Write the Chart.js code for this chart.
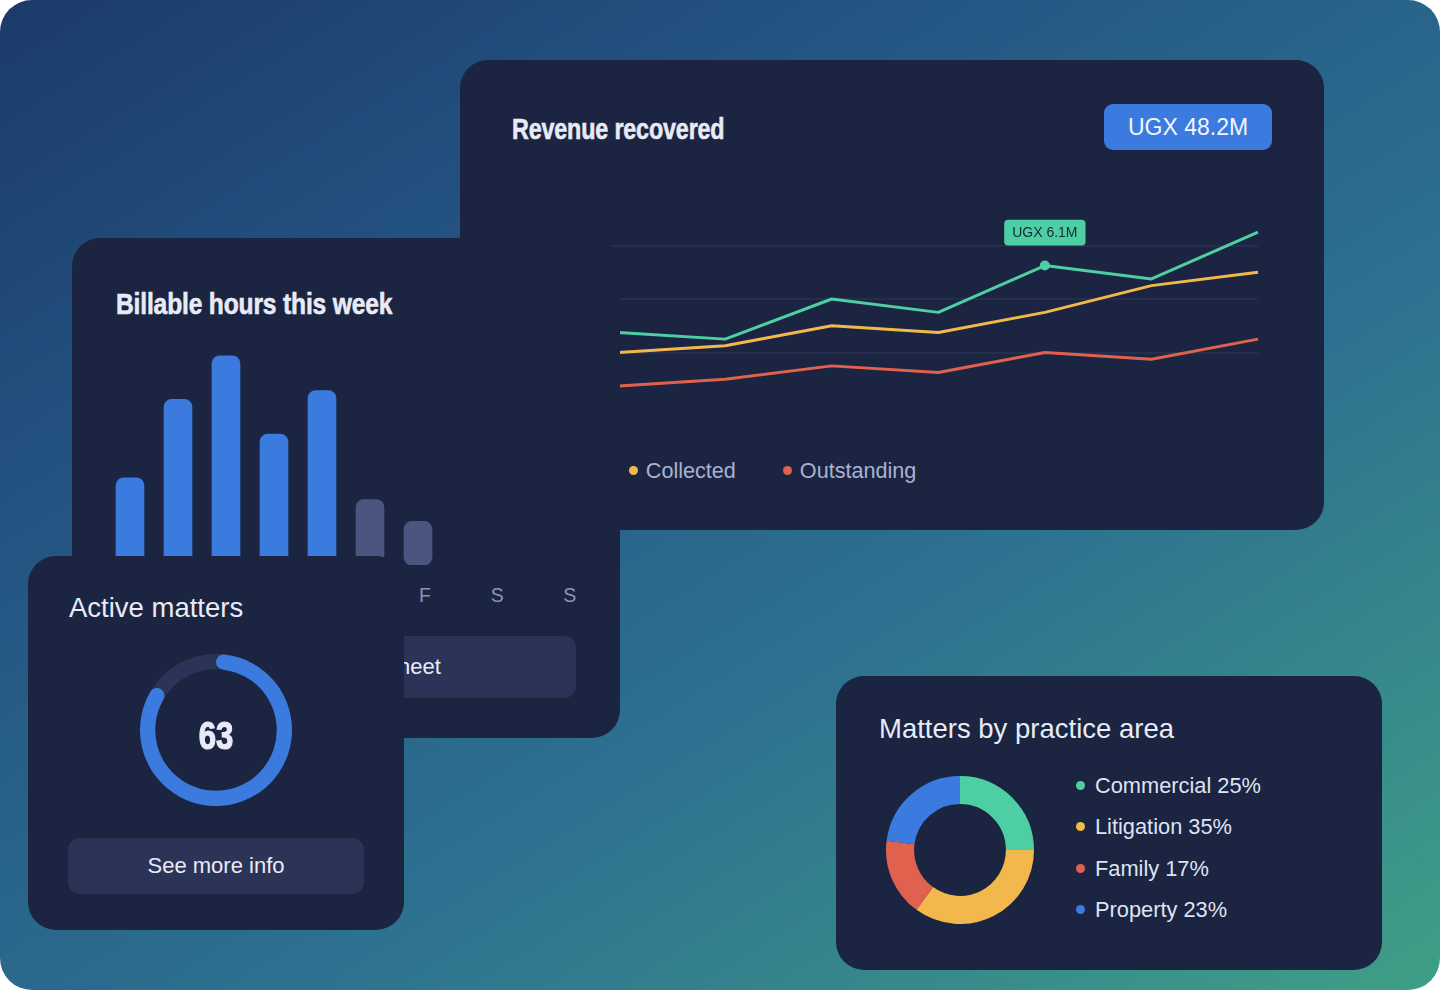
<!DOCTYPE html>
<html>
<head>
<meta charset="utf-8">
<title>Practice dashboard</title>
<script src="https://cdn.jsdelivr.net/npm/chart.js@4.4.1/dist/chart.umd.min.js"></script>
<style>
    html, body { margin: 0; padding: 0; background: #fff; }
    body { width: 1440px; height: 990px; overflow: hidden; font-family: "Liberation Sans", Arial, Helvetica, sans-serif; }
    .stage {
        position: relative; width: 1440px; height: 990px; border-radius: 32px; overflow: hidden;
        background: linear-gradient(148deg, #1b3a6a 0%, #245583 30%, #2d7190 62%, #3f9f86 100%);
    }
    .card { position: absolute; background: #1b2440; border-radius: 28px; }
    .heavy {
        position: absolute; white-space: nowrap; line-height: 1; font-weight: 700;
        font-size: 30px; color: #e8ebf7; transform-origin: left top;
        -webkit-text-stroke: 0.6px #e8ebf7; letter-spacing: -0.2px;
    }
    .plain { position: absolute; white-space: nowrap; line-height: 1; color: #e8ebf7; }
    .btn {
        position: absolute; background: #2b3457; border-radius: 12px; color: #e8ebf7;
        display: flex; align-items: center; justify-content: center; font-size: 22px; white-space: nowrap;
    }
    .chart-box { position: absolute; }
    .legend-row { position: absolute; display: flex; align-items: center; gap: 47px; font-size: 21.6px; color: #a9b2d4; line-height: 1; }
    .legend-row .item { display: flex; align-items: center; }
    .dot { width: 9px; height: 9px; border-radius: 50%; margin-right: 8px; flex: none; }
    .days { position: absolute; display: grid; grid-template-columns: repeat(7, 1fr); font-size: 19.5px; color: #8a94bb; line-height: 1; text-align: center; }
    .practice-item { position: absolute; display: flex; align-items: center; font-size: 21.8px; color: #dfe3f4; line-height: 1; white-space: nowrap; }
</style>
</head>
<body>
<div class="stage">

    <div class="card" id="revenueCard" style="left:460px;top:60px;width:864px;height:470px;z-index:1;">
        <div class="heavy" style="left:52px;top:54px;transform:scaleX(0.777);">Revenue recovered</div>
        <div class="btn" id="revenueBadge" style="left:644px;top:44px;width:168px;height:46px;border-radius:9px;background:#3b7be0;font-size:23px;color:#f3f6ff;"></div>
        <div class="chart-box" style="left:40px;top:120px;width:770px;height:240px;"><canvas id="revenueChart"></canvas></div>
        <div class="legend-row" id="revenueLegend" style="left:52px;top:400px;"></div>
    </div>

    <div class="card" id="billableCard" style="left:72px;top:238px;width:548px;height:500px;z-index:2;">
        <div class="heavy" style="left:44px;top:51px;transform:scaleX(0.82);">Billable hours this week</div>
        <div class="chart-box" style="left:24px;top:99px;width:356px;height:238px;"><canvas id="hoursChart"></canvas></div>
        <div class="days" id="dayLabels" style="left:27px;top:348px;width:507px;"></div>
        <div class="btn" style="left:44px;top:398px;width:460px;height:62px;">Open full timesheet</div>
    </div>

    <div class="card" id="activeCard" style="left:28px;top:556px;width:376px;height:374px;z-index:3;">
        <div class="plain" style="left:41px;top:38px;font-size:27.5px;">Active matters</div>
        <div class="chart-box" style="left:112px;top:98px;width:152px;height:152px;"><canvas id="activeChart"></canvas></div>
        <div class="heavy" id="activeCount" style="left:188px;top:161px;font-size:38px;-webkit-text-stroke:1.2px #e8ebf7;transform:translateX(-50%) scaleX(0.82);transform-origin:center top;"></div>
        <div class="btn" style="left:40px;top:282px;width:296px;height:56px;">See more info</div>
    </div>

    <div class="card" id="practiceCard" style="left:836px;top:676px;width:546px;height:294px;z-index:1;">
        <div class="plain" style="left:43px;top:39px;font-size:27.5px;">Matters by practice area</div>
        <div class="chart-box" style="left:50px;top:100px;width:148px;height:148px;"><canvas id="practiceChart"></canvas></div>
        <div id="practiceLegend"></div>
    </div>

</div>

<script>
// revenue recovered (monthly, first two points sit behind the hours card)
const months = ['Jan', 'Feb', 'Mar', 'Apr', 'May', 'Jun', 'Jul', 'Aug'];
const billed = [9, 11, 10, 16, 14, 21, 19, 26];
const collected = [6, 8, 9, 12, 11, 14, 18, 20];
const outstanding = [2, 3, 4, 6, 5, 8, 7, 10];
const revenueSeries = ['Billed', 'Collected', 'Outstanding'];
const revenueTicks = [0, 8, 16, 24, 32];
const highlightIndex = 5;
const highlightLabel = 'UGX 6.1M';
const revenueTotal = 'UGX 48.2M';

// billable hours this week
const days = ['M', 'T', 'W', 'T', 'F', 'S', 'S'];
const hours = [4, 7.6, 9.6, 6, 8, 3, 2];

// active matters gauge
const activeMatters = 63;
const matterCapacity = 74;

// matters by practice area (%)
const practiceAreas = ['Commercial', 'Litigation', 'Family', 'Property'];
const practiceShares = [25, 35, 17, 23];

const GREEN = '#4ecfa3', YELLOW = '#f2b84b', RED = '#e0624e', BLUE = '#3b7be0';
const WEEKEND = '#4a5580', TRACK = '#2b3457', GRID = '#252e4b';

Chart.defaults.animation = false;
Chart.defaults.font.family = '"Liberation Sans", Arial, sans-serif';

document.addEventListener('DOMContentLoaded', () => {
    renderRevenue();
    renderHours();
    renderActive();
    renderPractice();
});

function renderRevenue() {
    const colors = [GREEN, YELLOW, RED];
    document.getElementById('revenueBadge').textContent = revenueTotal;
    document.getElementById('revenueLegend').innerHTML = revenueSeries.map((s, i) => `
        <div class="item"><span class="dot" style="background:${colors[i]}"></span>${s}</div>`).join('');

    const chart = new Chart(document.getElementById('revenueChart'), {
        type: 'line',
        data: {
            labels: months,
            datasets: [billed, collected, outstanding].map((d, i) => ({
                label: revenueSeries[i],
                data: d,
                borderColor: colors[i],
                backgroundColor: colors[i],
                borderWidth: 3,
                tension: 0,
                borderJoinStyle: 'round',
                pointRadius: ctx => (i === 0 && ctx.dataIndex === highlightIndex) ? 5 : 0,
                pointBorderWidth: 0,
            }))
        },
        options: {
            responsive: true,
            maintainAspectRatio: false,
            events: [],
            layout: { padding: { left: 12, right: 12, top: 12, bottom: 14 } },
            plugins: {
                legend: { display: false },
                tooltip: {
                    backgroundColor: GREEN,
                    bodyColor: '#16283a',
                    bodyFont: { size: 14 },
                    displayColors: false,
                    padding: { x: 8, y: 4.5 },
                    cornerRadius: 4,
                    caretSize: 0,
                    caretPadding: 20,
                    xAlign: 'center',
                    yAlign: 'bottom',
                    callbacks: { title: () => '', label: () => highlightLabel }
                }
            },
            scales: {
                x: { display: false },
                y: {
                    min: revenueTicks[0],
                    max: revenueTicks[revenueTicks.length - 1],
                    afterBuildTicks: axis => { axis.ticks = revenueTicks.map(v => ({ value: v })); },
                    ticks: { display: false },
                    border: { display: false },
                    grid: {
                        drawTicks: false,
                        lineWidth: 2,
                        color: ctx => (ctx.tick && (ctx.tick.value === revenueTicks[0] || ctx.tick.value === revenueTicks[revenueTicks.length - 1])) ? 'rgba(0,0,0,0)' : GRID
                    }
                }
            }
        }
    });
    chart.tooltip.setActiveElements([{ datasetIndex: 0, index: highlightIndex }], { x: 0, y: 0 });
    chart.update();
}

function renderHours() {
    document.getElementById('dayLabels').innerHTML = days.map(d => `<span>${d}</span>`).join('');
    new Chart(document.getElementById('hoursChart'), {
        type: 'bar',
        data: {
            labels: days,
            datasets: [{
                data: hours,
                backgroundColor: hours.map((h, i) => i >= 5 ? WEEKEND : BLUE),
                barThickness: 28,
                borderRadius: 8,
                borderSkipped: false,
            }]
        },
        options: {
            responsive: true,
            maintainAspectRatio: false,
            events: [],
            layout: { padding: { left: 10, right: 10, top: 10, bottom: 10 } },
            plugins: { legend: { display: false }, tooltip: { enabled: false } },
            scales: {
                x: { display: false },
                y: { display: false, min: 0, max: 10 }
            }
        }
    });
}

// full ring behind the gauge arc
const gaugeTrack = {
    id: 'gaugeTrack',
    beforeDatasetsDraw(chart) {
        const arc = chart.getDatasetMeta(0).data[0];
        if (!arc) return;
        const { x, y, innerRadius, outerRadius } = arc.getProps(['x', 'y', 'innerRadius', 'outerRadius']);
        const ctx = chart.ctx;
        ctx.save();
        ctx.beginPath();
        ctx.arc(x, y, outerRadius, 0, Math.PI * 2);
        ctx.arc(x, y, innerRadius, Math.PI * 2, 0, true);
        ctx.fillStyle = TRACK;
        ctx.fill('evenodd');
        ctx.restore();
    }
};

function renderActive() {
    document.getElementById('activeCount').textContent = activeMatters;
    new Chart(document.getElementById('activeChart'), {
        type: 'doughnut',
        data: {
            labels: ['Active', 'Open capacity'],
            datasets: [{
                data: [activeMatters, matterCapacity - activeMatters],
                backgroundColor: [BLUE, 'rgba(0,0,0,0)'],
                borderWidth: 0,
                borderRadius: ctx => ctx.dataIndex === 0 ? 8 : 0,
            }]
        },
        options: {
            responsive: true,
            maintainAspectRatio: false,
            events: [],
            cutout: '80%',
            plugins: { legend: { display: false }, tooltip: { enabled: false } }
        },
        plugins: [gaugeTrack]
    });
}

function renderPractice() {
    const colors = [GREEN, YELLOW, RED, BLUE];
    const rowTops = [99, 140, 181.5, 223];
    document.getElementById('practiceLegend').innerHTML = practiceAreas.map((a, i) => `
        <div class="practice-item" style="left:240px;top:${rowTops[i]}px;">
            <span class="dot" style="background:${colors[i]};margin-right:10px;"></span>${a} ${practiceShares[i]}%
        </div>`).join('');

    new Chart(document.getElementById('practiceChart'), {
        type: 'doughnut',
        data: {
            labels: practiceAreas,
            datasets: [{
                data: practiceShares,
                backgroundColor: colors,
                borderWidth: 0,
            }]
        },
        options: {
            responsive: true,
            maintainAspectRatio: false,
            events: [],
            cutout: '62%',
            plugins: { legend: { display: false }, tooltip: { enabled: false } }
        }
    });
}
</script>
</body>
</html>
